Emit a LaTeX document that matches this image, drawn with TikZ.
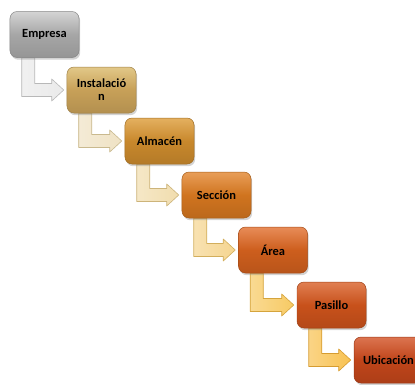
\documentclass[tikz,border=0pt]{standalone}
\usepackage{fontspec}
\setmainfont{Carlito}
\usetikzlibrary{calc,shadows,backgrounds}

% step colours: body and highlight of each box
\definecolor{cEmp}{HTML}{A6A6A6}\definecolor{hEmp}{HTML}{D4D4D4}
\definecolor{cIns}{HTML}{C7A058}\definecolor{hIns}{HTML}{E2C888}
\definecolor{cAlm}{HTML}{C8882C}\definecolor{hAlm}{HTML}{E4B060}
\definecolor{cSec}{HTML}{D0741F}\definecolor{hSec}{HTML}{E89E58}
\definecolor{cAre}{HTML}{CD5E1D}\definecolor{hAre}{HTML}{E88C58}
\definecolor{cPas}{HTML}{C8511B}\definecolor{hPas}{HTML}{E07F52}
\definecolor{cUbi}{HTML}{C0451A}\definecolor{hUbi}{HTML}{DC7450}
% elbow arrow fills
\definecolor{a1}{HTML}{EAEAEA}\definecolor{a1d}{HTML}{B8B8B8}
\definecolor{a2}{HTML}{EFE2C4}\definecolor{a2d}{HTML}{C9B98E}
\definecolor{a3}{HTML}{F1DDAE}\definecolor{a3d}{HTML}{CDB47A}
\definecolor{a4}{HTML}{F5D590}\definecolor{a4d}{HTML}{D2AE5C}
\definecolor{a5}{HTML}{F7CA64}\definecolor{a5d}{HTML}{D5A43C}
\definecolor{a6}{HTML}{F8C252}\definecolor{a6d}{HTML}{D69C30}

\tikzset{
  stepbox/.style 2 args={draw=#1!80!black, line width=0.5bp, rounded corners=7bp,
    minimum width=69bp, minimum height=46bp, inner sep=2bp, align=center,
    top color=#2, bottom color=#1!90!black, middle color=#1,
    font=\fontsize{12.5}{13}\selectfont\bfseries, text=black,
    drop shadow={opacity=0.35, shadow xshift=1.2bp, shadow yshift=-2.2bp}},
  elbowfill/.style 2 args={left color=#1!70!white, right color=#1, draw=#2,
    line width=0.6bp, line join=round}
}

% elbow arrow from under one box to the left side of the next
\newcommand\elbowarrow[4]{%
  \path[elbowfill={#3}{#4}] let \p1=(#1.south west), \p2=(#2.west) in
    (\x1+12bp,\y1) -- (\x1+25bp,\y1) -- (\x1+25bp,\y2+6.5bp)
    -- (\x2-15bp,\y2+6.5bp) -- (\x2-15bp,\y2+11bp) -- (\x2-3bp,\y2)
    -- (\x2-15bp,\y2-11bp) -- (\x2-15bp,\y2-6.5bp) -- (\x1+12bp,\y2-6.5bp) -- cycle;}

\begin{document}
\begin{tikzpicture}[x=1bp,y=-1bp]
  \useasboundingbox (0,0) rectangle (415,385);
  \clip (0,0) rectangle (415,385);

  \node[stepbox={cEmp}{hEmp}] (emp) at (44.5,34.5)  {Empresa};
  \node[stepbox={cIns}{hIns}] (ins) at (101.5,90)   {Instalació\\n};
  \node[stepbox={cAlm}{hAlm}] (alm) at (159.5,141)  {Almacén};
  \node[stepbox={cSec}{hSec}] (sec) at (216.5,195)  {Sección};
  \node[stepbox={cAre}{hAre}] (are) at (273,250)    {Área};
  \node[stepbox={cPas}{hPas}] (pas) at (331.5,305)  {Pasillo};
  \node[stepbox={cUbi}{hUbi}] (ubi) at (388.5,360)  {Ubicación};

  \begin{scope}[on background layer]
    \elbowarrow{emp}{ins}{a1}{a1d}
    \elbowarrow{ins}{alm}{a2}{a2d}
    \elbowarrow{alm}{sec}{a3}{a3d}
    \elbowarrow{sec}{are}{a4}{a4d}
    \elbowarrow{are}{pas}{a5}{a5d}
    \elbowarrow{pas}{ubi}{a6}{a6d}
  \end{scope}
\end{tikzpicture}
\end{document}
